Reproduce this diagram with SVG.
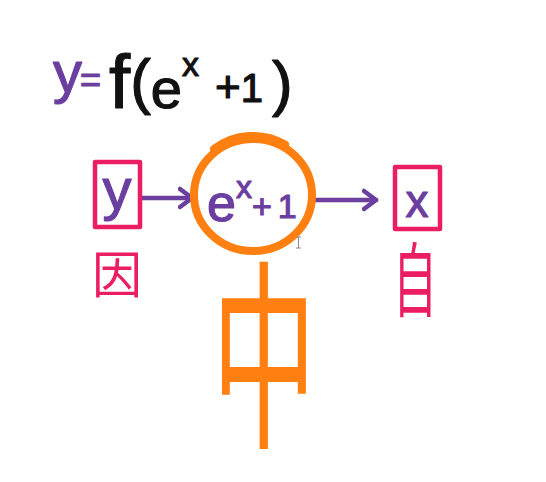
<svg xmlns="http://www.w3.org/2000/svg" width="546" height="482" viewBox="0 0 546 482">
  <style>
    .hand { font-family: "Liberation Sans", "DejaVu Sans", sans-serif; stroke-width: 1.2; stroke-linejoin: round; }
    .cjk { font-family: "Noto Sans CJK SC", "Noto Sans CJK JP", sans-serif; }
    .purple { fill: #6B3FA0; stroke: #6B3FA0; }
    .black { fill: #111111; stroke: #111111; }
    .pink { fill: #EC1E63; }
    .orange { fill: #FF7F11; }
    .box { fill: none; stroke: #EC1E63; stroke-width: 4.5; stroke-linejoin: round; }
    .conn { fill: none; stroke: #6B3FA0; stroke-width: 4.5; stroke-linecap: round; }
  </style>
  <defs>
    <marker id="chev" markerUnits="userSpaceOnUse" markerWidth="20" markerHeight="26" refX="14" refY="11" orient="auto" viewBox="0 0 20 22">
      <polyline points="2,2 14,11 2,20" fill="none" stroke="#6B3FA0" stroke-width="4.5" stroke-linecap="round" stroke-linejoin="round"/>
    </marker>
  </defs>
  <rect width="546" height="482" fill="#ffffff"/>

  <g id="formula">
    <text class="hand" x="53" y="92"><tspan class="purple" font-size="58">y</tspan><tspan class="purple" font-size="36" dx="-2">=</tspan><tspan class="black" font-size="76" dx="8" y="108">f</tspan><tspan class="black" font-size="62" y="102">(</tspan><tspan class="black" font-size="56" y="108">e</tspan><tspan class="black" font-size="34" y="76">x</tspan><tspan class="black" font-size="44" dx="16" y="102">+</tspan><tspan class="black" font-size="40" y="102">1</tspan><tspan class="black" font-size="62" dx="9" y="104">)</tspan></text>
  </g>

  <g id="connectors">
    <line class="conn" x1="142" y1="198" x2="192" y2="198" marker-end="url(#chev)"/>
    <line class="conn" x1="315" y1="200" x2="376" y2="200" marker-end="url(#chev)"/>
  </g>

  <g id="node-y">
    <rect class="box" x="95" y="162" width="45" height="65"/>
    <text class="hand purple" x="117" y="209" font-size="58" text-anchor="middle">y</text>
    <text class="cjk pink" x="117" y="293" font-size="50" text-anchor="middle">因</text>
  </g>

  <g id="node-mid">
    <ellipse cx="253" cy="195" rx="59" ry="56" fill="none" stroke="#FF7F11" stroke-width="8"/>
    <path d="M214,149 A62,59 0 0,1 285,144.5" fill="none" stroke="#FF7F11" stroke-width="8" stroke-linecap="round"/>
    <text class="hand purple" x="207" y="221"><tspan font-size="52">e</tspan><tspan font-size="32" y="198">x</tspan><tspan font-size="34" y="218">+</tspan><tspan font-size="34" dx="6" y="218">1</tspan></text>
    <text class="cjk orange" font-size="104" text-anchor="middle" transform="translate(264,433) scale(1,1.95)">中</text>
  </g>

  <g id="node-x">
    <rect class="box" x="395" y="167" width="45" height="62"/>
    <text class="hand purple" x="417" y="217" font-size="46" text-anchor="middle">x</text>
    <text class="cjk pink" font-size="44" text-anchor="middle" transform="translate(415,310) scale(1,1.83)">自</text>
  </g>

  <path d="M296,237 H301 M298.5,237 V248 M296,248 H301" stroke="#888888" stroke-width="1" fill="none"/>
</svg>
